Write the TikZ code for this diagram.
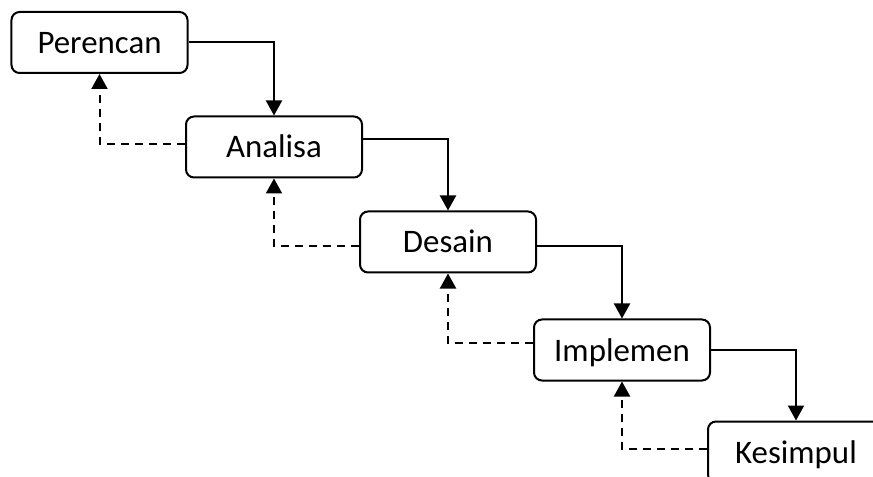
\documentclass[tikz,border=0pt]{standalone}
\usepackage{fontspec}
\setmainfont{Carlito}
\usetikzlibrary{arrows.meta}
\begin{document}
\begin{tikzpicture}[x=1bp,y=-1bp,
  stage/.style={draw=black,line width=2bp,rounded corners=8bp,minimum width=176bp,minimum height=61bp,
    inner sep=0pt,text height=22bp,text depth=0pt,font=\fontsize{33}{39}\selectfont},
  fwd/.style={line width=2bp,-{Triangle[length=15bp,width=16bp]}},
  back/.style={line width=2bp,dash pattern=on 8bp off 6bp,-{Triangle[length=15bp,width=16bp]}}]
\useasboundingbox (0,0) rectangle (873,477);
\clip (0,0) rectangle (873,477);
\node[stage] (p) at (99.5,42.5) {Perencan};
\node[stage] (a) at (274,147) {Analisa};
\node[stage] (d) at (448,242) {Desain};
\node[stage] (i) at (622,350) {Implemen};
\node[stage] (k) at (796,452) {Kesimpul};
\draw[fwd] (p.east) -| (a.north);
\draw[fwd] ([yshift=8bp]a.east) -| (d.north);
\draw[fwd] ([yshift=-4bp]d.east) -| (i.north);
\draw[fwd] (i.east) -| (k.north);
\draw[back] ([yshift=3bp]a.west) -| (p.south);
\draw[back] ([yshift=-4bp]d.west) -| (a.south);
\draw[back] ([yshift=7bp]i.west) -| (d.south);
\draw[back] ([yshift=3bp]k.west) -| (i.south);
\end{tikzpicture}
\end{document}
